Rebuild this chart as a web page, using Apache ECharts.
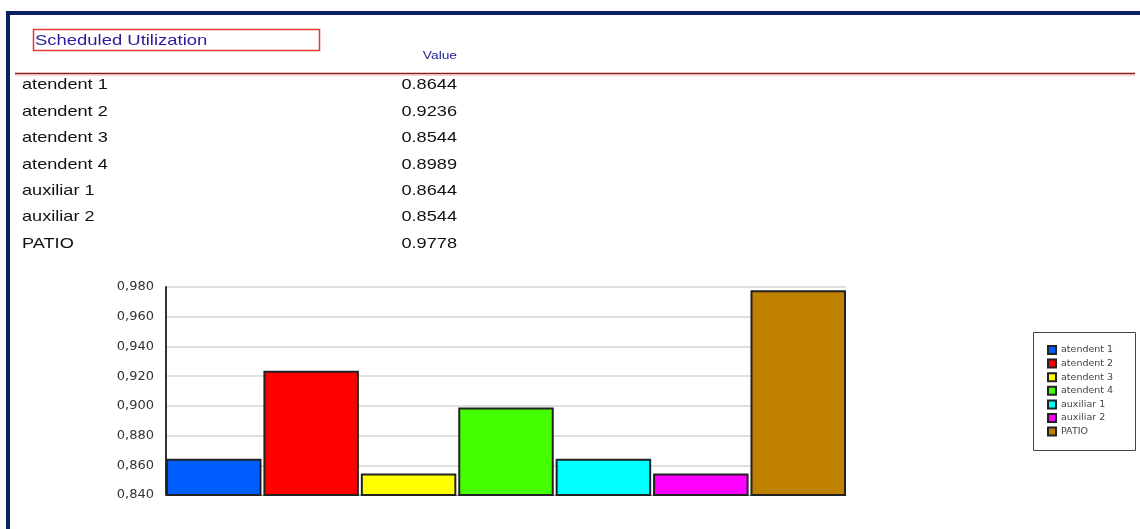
<!DOCTYPE html>
<html>
<head>
<meta charset="utf-8">
<script src="https://cdn.jsdelivr.net/npm/echarts@6/dist/echarts.min.js"></script>
<style>
html,body{margin:0;padding:0;background:#fff;}
#chart{width:1140px;height:529px;}
</style>
</head>
<body>
<div id="chart"></div>
<script>
const titleText = 'Scheduled Utilization';
const columnHeader = 'Value';
const categories = ['atendent 1','atendent 2','atendent 3','atendent 4','auxiliar 1','auxiliar 2','PATIO'];
const values = [0.8644, 0.9236, 0.8544, 0.8989, 0.8644, 0.8544, 0.9778];
const colors = ['#005eff','#ff0000','#ffff00','#44ff00','#00ffff','#ff00ff','#c08000'];
const yMin = 0.84, yMax = 0.98, yStep = 0.02;

const chart = echarts.init(document.getElementById('chart'));
const font = '"Liberation Sans", Arial, sans-serif';
const wide = '"DejaVu Sans", Verdana, sans-serif';

const graphics = [
  // navy frame
  {type:'rect', shape:{x:6,y:11,width:1134,height:4}, style:{fill:'#0b2161'}, silent:true},
  {type:'rect', shape:{x:6,y:11,width:4,height:518}, style:{fill:'#0b2161'}, silent:true},
  // title box
  {type:'rect', shape:{x:33.5,y:29.5,width:286,height:21}, style:{fill:'none',stroke:'#e83535',lineWidth:1.5}, silent:true},
  {type:'text', x:35, y:41, scaleX:1.23, style:{text:titleText, font:'15px '+font, fill:'#2b1c9c', verticalAlign:'middle'}, silent:true},
  {type:'text', x:457, y:55.5, scaleX:1.25, style:{text:columnHeader, font:'11px '+font, fill:'#1c1c8c', align:'right', verticalAlign:'middle'}, silent:true},
  // red rule
  {type:'line', shape:{x1:15,y1:73.5,x2:1135,y2:73.5}, style:{stroke:'#8b1a1a',lineWidth:1.5}, silent:true},
  {type:'line', shape:{x1:15,y1:75,x2:1135,y2:75}, style:{stroke:'#e8b0b0',lineWidth:1}, silent:true},
  // legend box
  {type:'rect', shape:{x:1033.5,y:332.5,width:102,height:118}, style:{fill:'none',stroke:'#444',lineWidth:1}, silent:true}
];
const rowY = [85, 111.5, 138, 164.5, 190.5, 217, 243.5];
categories.forEach((c,i)=>{
  graphics.push({type:'text', x:22, y:rowY[i], scaleX:1.21, style:{text:c, font:'15px '+font, fill:'#111', verticalAlign:'middle'}, silent:true});
  graphics.push({type:'text', x:457, y:rowY[i], scaleX:1.21, style:{text:values[i].toFixed(4), font:'15px '+font, fill:'#111', align:'right', verticalAlign:'middle'}, silent:true});
});

const series = categories.map((c,i)=>({
  name:c,
  type:'bar',
  data:[values[i]],
  barGap:'2%',
  barCategoryGap:'0%',
  itemStyle:{color:colors[i], borderColor:'#222', borderWidth:2},
  emphasis:{disabled:true}
}));

chart.setOption({
  animation:false,
  backgroundColor:'#fff',
  graphic:graphics,
  grid:{left:166, right:294, top:287, bottom:34},
  legend:{
    orient:'vertical', left:1042, top:340,
    itemWidth:8, itemHeight:8, itemGap:3.6,
    icon:'rect',
    textStyle:{fontSize:9.5, lineHeight:10, color:'#444', fontFamily:wide},
    data:categories,
    selectedMode:false
  },
  xAxis:{
    type:'category', data:[''],
    axisLine:{show:true, lineStyle:{color:'#aaa'}},
    axisTick:{show:false}, axisLabel:{show:false}
  },
  yAxis:{
    type:'value', min:yMin, max:yMax, interval:yStep,
    axisLine:{show:true, lineStyle:{color:'#333', width:2}},
    axisTick:{show:false},
    axisLabel:{margin:12, fontSize:13, color:'#333', fontFamily:wide,
      formatter:v=>v.toFixed(3).replace('.',',')},
    splitLine:{lineStyle:{color:'#d4d4d4', width:1.5}}
  },
  series:series
});
</script>
</body>
</html>
